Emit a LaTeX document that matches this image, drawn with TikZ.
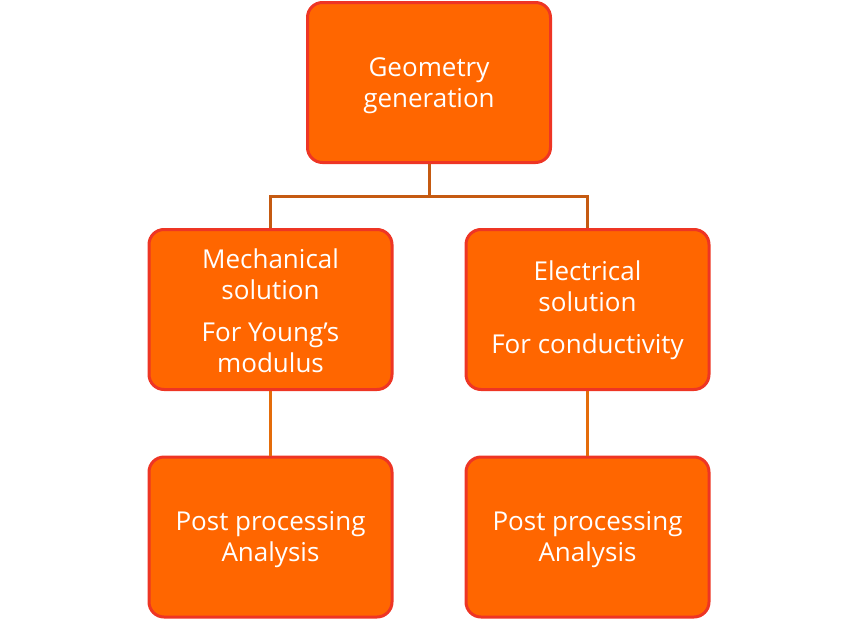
\documentclass[tikz,border=0pt]{standalone}
\usepackage{fontspec}
\setmainfont{Open Sans}
\definecolor{boxfill}{HTML}{FF6600}
\definecolor{boxline}{HTML}{EE3524}
\definecolor{linkA}{HTML}{C55A11}
\definecolor{linkB}{HTML}{E46C0A}
\begin{document}
\begin{tikzpicture}[x=1pt,y=-1pt,
  box/.style={draw=boxline, fill=boxfill, line width=3pt, rounded corners=15pt,
    minimum width=243pt, minimum height=160pt, inner sep=0pt},
  txt/.style={text=white, align=center, font=\fontsize{26}{31}\selectfont, inner sep=0pt},
  linkone/.style={draw=linkA, line width=3pt},
  linktwo/.style={draw=linkB, line width=3pt}]
\useasboundingbox (0,0) rectangle (859,621);
\node[box] (geo) at (429,82.5) {};
\node[box] (mech) at (270.5,309.5) {};
\node[box] (elec) at (587.5,309.5) {};
\node[box] (postl) at (270.5,537) {};
\node[box] (postr) at (587.5,537) {};
\node[txt] (geot) at ([yshift=-3pt]geo.center) {Geometry\\generation};
\node[txt] (mecht) at ([yshift=-1pt]mech.center) {Mechanical\\solution\\[11pt]For Young’s\\modulus};
\node[txt] (elect) at ([yshift=-1pt]elec.center) {Electrical\\solution\\[11pt]For conductivity};
\node[txt] (postlt) at ([yshift=-3pt]postl.center) {Post processing\\Analysis};
\node[txt] (postrt) at ([yshift=-3pt]postr.center) {Post processing\\Analysis};
\coordinate (j) at (429,196);
\draw[linkone] (geo.south) -- (j) -| (mech.north);
\draw[linkone] (j) -| (elec.north);
\draw[linktwo] (mech.south) -- (postl.north);
\draw[linktwo] (elec.south) -- (postr.north);
\end{tikzpicture}
\end{document}
